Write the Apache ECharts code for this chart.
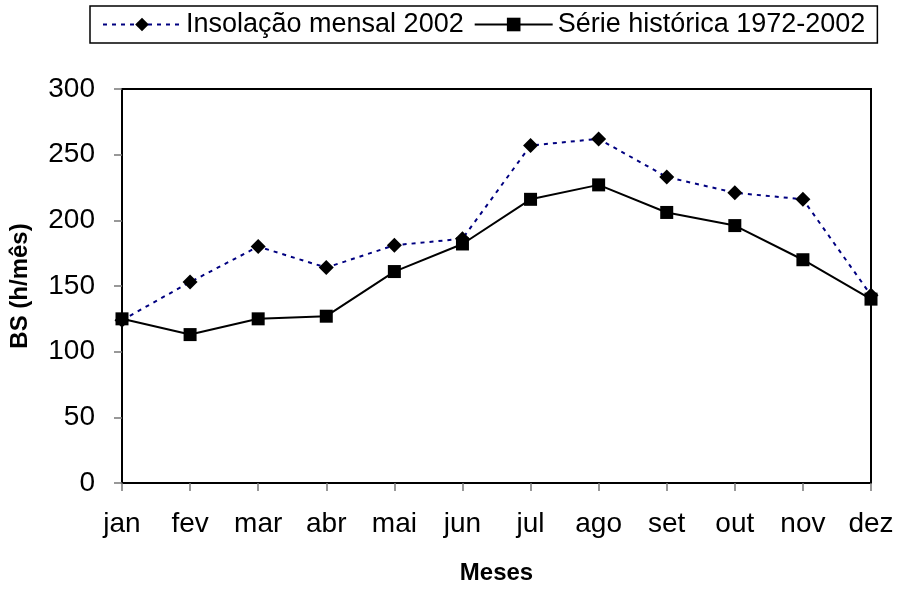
<!DOCTYPE html>
<html>
<head>
<meta charset="utf-8">
<script src="https://cdn.jsdelivr.net/npm/echarts@6/dist/echarts.min.js"></script>
<style>html,body{margin:0;padding:0;background:#fff}#c{width:909px;height:590px}</style>
</head>
<body>
<div id="c"></div>
<script>
const months = ['jan','fev','mar','abr','mai','jun','jul','ago','set','out','nov','dez'];
const insolacao2002 = [124, 153, 180, 164, 181, 186, 257, 262, 233, 221, 216, 143];
const serieHistorica = [125, 113, 125, 127, 161, 182, 216, 227, 206, 196, 170, 140];
const yTicks = [0, 50, 100, 150, 200, 250, 300];

const FONT = "'Liberation Sans', Arial, sans-serif";
const chart = echarts.init(document.getElementById('c'), null, {renderer: 'canvas'});
chart.setOption({
  backgroundColor: '#fff',
  animation: false,
  textStyle: {fontFamily: FONT, color: '#000'},
  legend: {
    left: 90, top: 6,
    padding: [5, 12, 5, 12],
    borderColor: '#000', borderWidth: 1.5,
    itemWidth: 78, itemHeight: 17, itemGap: 10,
    textStyle: {fontFamily: FONT, fontSize: 27, color: '#000'},
    data: ['Insolação mensal 2002', 'Série histórica 1972-2002']
  },
  grid: {
    left: 122, right: 38, top: 89, bottom: 107,
    show: true, borderColor: '#000', borderWidth: 2, backgroundColor: 'transparent'
  },
  xAxis: {
    type: 'category', data: months, boundaryGap: false,
    name: 'Meses', nameLocation: 'middle', nameGap: 78,
    nameTextStyle: {fontFamily: FONT, fontSize: 24, fontWeight: 'bold', color: '#000'},
    axisLine: {lineStyle: {color: '#000', width: 2}},
    axisTick: {show: true, length: 8, lineStyle: {color: '#777', width: 1.5}},
    axisLabel: {fontSize: 28, color: '#000', margin: 27, interval: 0},
    splitLine: {show: false}
  },
  yAxis: {
    type: 'value', min: yTicks[0], max: yTicks[yTicks.length - 1], interval: 50,
    name: 'BS (h/mês)', nameLocation: 'middle', nameGap: 90, nameRotate: 90,
    nameTextStyle: {fontFamily: FONT, fontSize: 24, fontWeight: 'bold', color: '#000'},
    axisLine: {show: true, lineStyle: {color: '#000', width: 2}},
    axisTick: {show: true, length: 8, lineStyle: {color: '#777', width: 1.5}},
    axisLabel: {fontSize: 28, color: '#000', margin: 27},
    splitLine: {show: false}
  },
  series: [
    {
      name: 'Insolação mensal 2002', type: 'line', data: insolacao2002,
      symbol: 'diamond', symbolSize: 15,
      itemStyle: {color: '#000'},
      lineStyle: {color: '#000080', width: 2, type: [4, 5]}
    },
    {
      name: 'Série histórica 1972-2002', type: 'line', data: serieHistorica,
      symbol: 'rect', symbolSize: 13,
      itemStyle: {color: '#000'},
      lineStyle: {color: '#000', width: 2, type: 'solid'}
    }
  ]
});
</script>
</body>
</html>
